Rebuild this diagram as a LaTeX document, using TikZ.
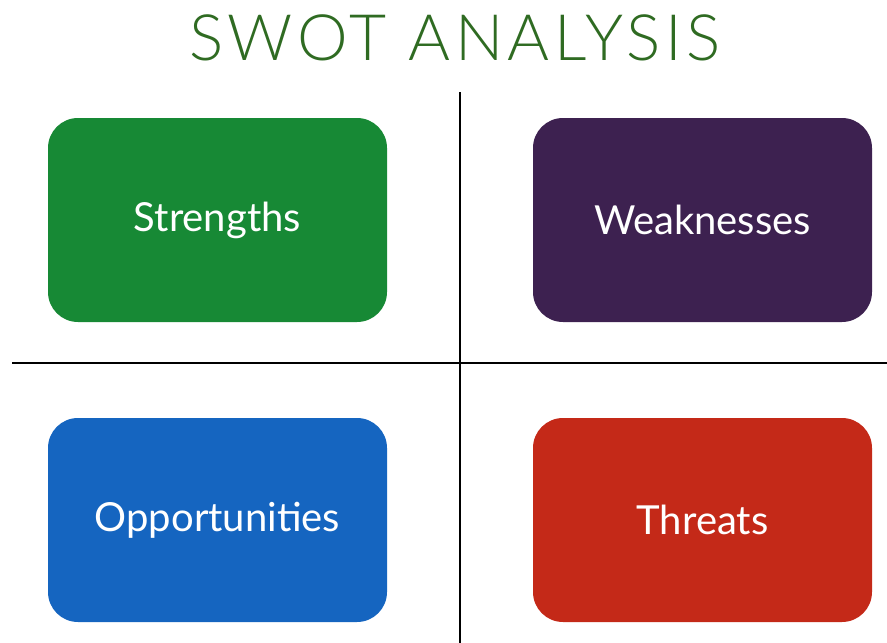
\documentclass[tikz,border=0pt]{standalone}
\usepackage{fontspec}
\setmainfont{Lato}
\newfontfamily\titlefont[LetterSpace=7]{Lato Light}
\usetikzlibrary{calc}
\newcommand*{\boxw }{339pt}
\newcommand*{\boxh }{204pt}
\newcommand*{\crad }{30pt}
\definecolor{titlegreen}{HTML}{2F6B22}
\definecolor{sgreen}{HTML}{178935}
\definecolor{wpurple}{HTML}{3D2150}
\definecolor{oblue}{HTML}{1565C0}
\definecolor{tred}{HTML}{C42918}
\tikzset{quad/.style={rectangle, rounded corners=\crad, minimum width=\boxw, minimum height=\boxh, draw=none, text=white, font=\fontsize{40}{46}\selectfont}}

\begin{document}
\begin{tikzpicture}[x=1pt, y=-1pt]
        \useasboundingbox (0,0) rectangle (887,643);
        \node [text=titlegreen, font=\titlefont\fontsize{64}{74}\selectfont] (title) at (455,38) {SWOT ANALYSIS};
        % the two dividing lines
        \coordinate (vtop) at (460,92);
        \coordinate (vbot) at (460,643);
        \coordinate (hleft) at (12,363);
        \coordinate (hright) at (887,363);
        \draw [line width=1.6pt] (vtop) -- (vbot);
        \draw [line width=1.6pt] (hleft) -- (hright);
        \node [quad, fill=sgreen ] (strengths) at (217.5,220) {Strengths};
        \node [quad, fill=wpurple] (weaknesses) at (702.5,220) {Weaknesses};
        \node [quad, fill=oblue  ] (opportunities) at (217.5,520) {Opportunities};
        \node [quad, fill=tred   ] (threats) at (702.5,520) {Threats};
    \end{tikzpicture}
\end{document}
